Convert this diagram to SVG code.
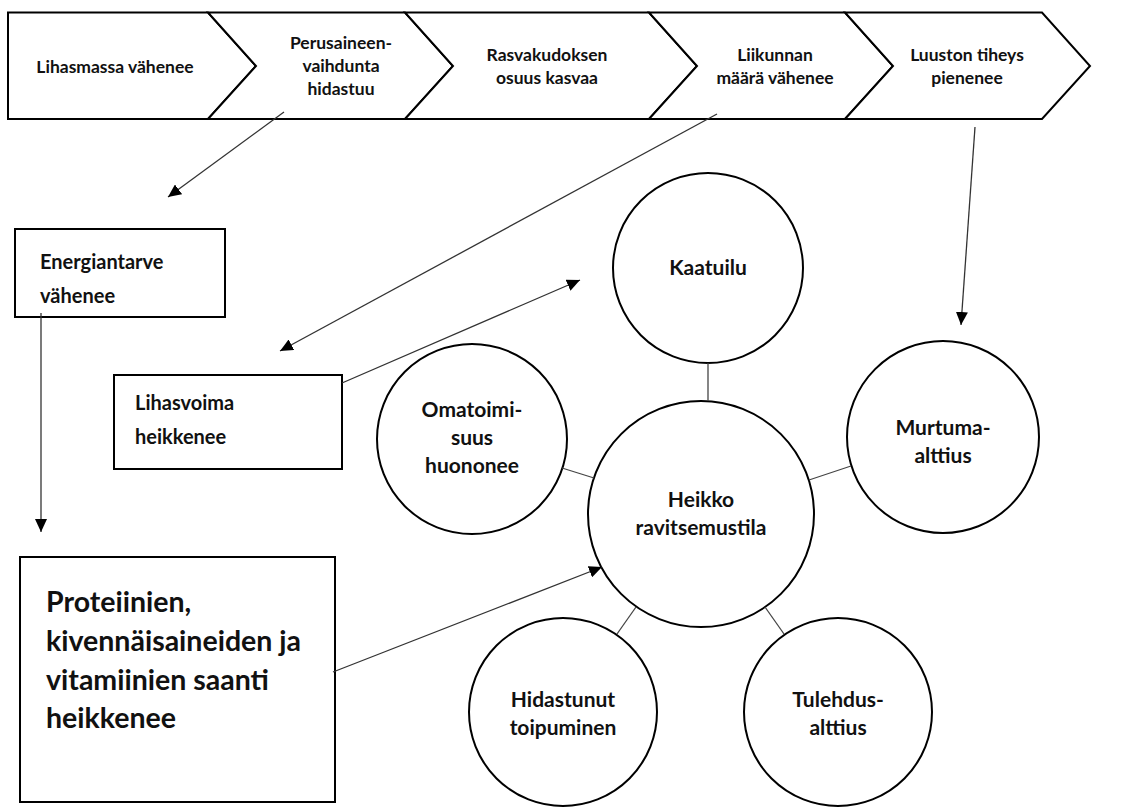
<svg xmlns="http://www.w3.org/2000/svg" width="1133" height="807" viewBox="0 0 1133 807">
<style>
.shape{fill:#fff;stroke:#000;stroke-width:2}
.t{font-family:Lato,"Liberation Sans",sans-serif;font-weight:700;fill:#111}
.band{font-size:17.5px;text-anchor:middle}
.circ{font-size:21px;text-anchor:middle}
.box{font-size:20px}
.big{font-size:28.5px}
.arrow{stroke:#333;stroke-width:1.3;fill:none;marker-end:url(#ah)}
.link{stroke:#444;stroke-width:1.3;fill:none}
</style>
<defs>
<marker id="ah" markerUnits="userSpaceOnUse" markerWidth="14" markerHeight="12" refX="13" refY="6" orient="auto">
<path d="M0,0 L13,6 L0,12 Z" fill="#000"/>
</marker>
</defs>
<rect width="1133" height="807" fill="#fff"/>

<g id="chevron1">
<polygon class="shape" points="8,12.5 208,12.5 256,66 208,119 8,119"/>
<text class="t band" x="115" y="73">Lihasmassa vähenee</text>
</g>
<g id="chevron2">
<polygon class="shape" points="208,12.5 405,12.5 453,66 405,119 208,119 256,66"/>
<text class="t band" x="341" y="49">Perusaineen-</text>
<text class="t band" x="341" y="72">vaihdunta</text>
<text class="t band" x="341" y="95">hidastuu</text>
</g>
<g id="chevron3">
<polygon class="shape" points="405,12.5 649,12.5 697,66 649,119 405,119 453,66"/>
<text class="t band" x="547" y="61">Rasvakudoksen</text>
<text class="t band" x="547" y="84">osuus kasvaa</text>
</g>
<g id="chevron4">
<polygon class="shape" points="649,12.5 845,12.5 893,66 845,119 649,119 697,66"/>
<text class="t band" x="775" y="61">Liikunnan</text>
<text class="t band" x="775" y="84">määrä vähenee</text>
</g>
<g id="chevron5">
<polygon class="shape" points="845,12.5 1042,12.5 1090,66 1042,119 845,119 893,66"/>
<text class="t band" x="967" y="61">Luuston tiheys</text>
<text class="t band" x="967" y="84">pienenee</text>
</g>

<g id="energiantarve">
<rect class="shape" x="15" y="229" width="210" height="88"/>
<text class="t box" x="40" y="269">Energiantarve</text>
<text class="t box" x="40" y="303">vähenee</text>
</g>
<g id="lihasvoima">
<rect class="shape" x="114" y="375" width="228" height="94"/>
<text class="t box" x="135" y="410">Lihasvoima</text>
<text class="t box" x="135" y="444">heikkenee</text>
</g>
<g id="proteiinien">
<rect class="shape" x="20" y="557" width="315" height="245"/>
<text class="t big" x="46" y="612">Proteiinien,</text>
<text class="t big" x="46" y="651">kivennäisaineiden ja</text>
<text class="t big" x="46" y="690">vitamiinien saanti</text>
<text class="t big" x="46" y="728">heikkenee</text>
</g>

<g id="kaatuilu">
<circle class="shape" cx="708" cy="268" r="95"/>
<text class="t circ" x="708" y="275">Kaatuilu</text>
</g>
<g id="omatoimisuus">
<circle class="shape" cx="472" cy="439" r="95"/>
<text class="t circ" x="472" y="417">Omatoimi-</text>
<text class="t circ" x="472" y="445">suus</text>
<text class="t circ" x="472" y="473">huononee</text>
</g>
<g id="heikko">
<circle class="shape" cx="701" cy="514" r="113"/>
<text class="t circ" x="701" y="507">Heikko</text>
<text class="t circ" x="701" y="535">ravitsemustila</text>
</g>
<g id="murtuma">
<circle class="shape" cx="943" cy="437" r="96"/>
<text class="t circ" x="943" y="435">Murtuma-</text>
<text class="t circ" x="943" y="463">alttius</text>
</g>
<g id="hidastunut">
<circle class="shape" cx="563" cy="712" r="94"/>
<text class="t circ" x="563" y="707">Hidastunut</text>
<text class="t circ" x="563" y="735">toipuminen</text>
</g>
<g id="tulehdus">
<circle class="shape" cx="838" cy="712" r="94"/>
<text class="t circ" x="838" y="707">Tulehdus-</text>
<text class="t circ" x="838" y="735">alttius</text>
</g>

<g id="connectors">
<line class="arrow" x1="284" y1="112" x2="168" y2="197"/>
<line class="arrow" x1="717" y1="114" x2="280" y2="351"/>
<line class="arrow" x1="342" y1="383" x2="580" y2="280"/>
<line class="arrow" x1="975" y1="127" x2="961" y2="325"/>
<line class="arrow" x1="41" y1="313" x2="41" y2="532"/>
<line class="arrow" x1="333" y1="672" x2="602" y2="567"/>
<line class="link" x1="708" y1="363" x2="708" y2="401"/>
<line class="link" x1="562" y1="468" x2="594" y2="478"/>
<line class="link" x1="809" y1="480" x2="851" y2="466"/>
<line class="link" x1="636" y1="607" x2="617" y2="634"/>
<line class="link" x1="765" y1="607" x2="784" y2="634"/>
</g>
</svg>
